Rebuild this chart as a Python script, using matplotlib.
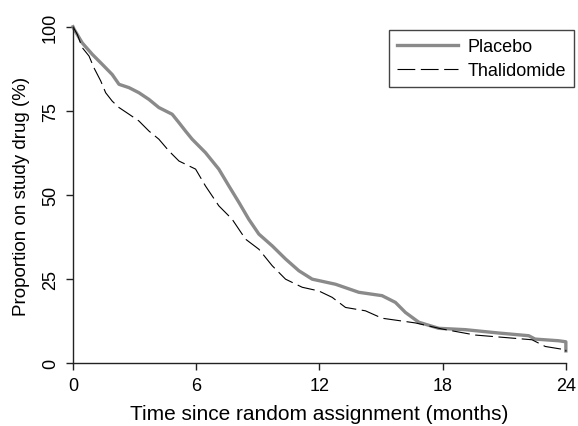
import matplotlib
matplotlib.use("Agg")
import matplotlib.pyplot as plt

# valores (meses, % en farmaco)
t_placebo = [0, 0.05, 0.45, 0.94, 1.43, 1.91, 2.24, 2.73, 3.21, 3.7, 4.18, 4.83,
             5.16, 5.48, 5.8, 6.45, 7.1, 7.59, 8.08, 8.56, 9.05, 9.7, 10.35, 11.0,
             11.65, 12.78, 13.92, 15.05, 15.7, 16.19, 16.84, 17.81, 19.1, 20.73,
             22.19, 22.5, 23.65, 24, 24]
y_placebo = [100, 99.3, 95.2, 91.8, 88.8, 85.8, 82.9, 81.9, 80.4, 78.4, 76.0, 74.0,
             71.5, 69.0, 66.6, 62.6, 57.7, 52.7, 47.8, 42.8, 38.4, 34.9, 31.0, 27.5,
             25.0, 23.5, 21.1, 20.1, 18.1, 15.1, 12.2, 10.4, 10.0, 9.0,
             8.2, 7.2, 6.7, 6.4, 3.7]

t_talid = [0, 0.21, 0.45, 0.78, 1.02, 1.35, 1.59, 1.91, 2.24, 2.73, 3.21, 3.7, 4.18,
           4.67, 5.16, 5.97, 6.45, 7.1, 7.75, 8.4, 9.05, 9.7, 10.35, 11.16, 11.97,
           12.62, 13.27, 14.24, 15.05, 16.67, 17.97, 19.59, 22.35, 23.0, 23.8, 24, 24]
y_talid = [100, 97.7, 93.8, 91.3, 87.8, 83.9, 80.4, 77.9, 76.0, 74.0, 72.0, 69.0, 66.6,
           63.1, 60.1, 57.7, 52.7, 46.8, 42.8, 36.9, 33.9, 29.0, 25.0, 22.6, 21.5,
           19.6, 16.6, 15.6, 13.4, 12.0, 10.2, 8.4, 7.0, 5.0, 4.2, 4.2, 3.5]

xticks = [0, 6, 12, 18, 24]
yticks = [0, 25, 50, 75, 100]

plt.rcParams['font.family'] = ['Liberation Sans', 'DejaVu Sans']

fig = plt.figure(figsize=(5.78, 4.27), dpi=100)
ax = fig.add_axes([0.1263, 0.1468, 0.979 - 0.1263, 0.935 - 0.1468])

ax.plot(t_placebo, y_placebo, color='#8a8a8a', lw=2.4,
        label='Placebo', clip_on=False)
ax.plot(t_talid, y_talid, color='black', lw=0.8,
        dashes=(16, 5), label='Thalidomide', clip_on=False)

ax.set_xlim(0, 24)
ax.set_ylim(0, 100)
ax.set_xticks(xticks)
ax.set_yticks(yticks)
ax.spines['top'].set_visible(False)
ax.spines['right'].set_visible(False)
for s in ['left', 'bottom']:
    ax.spines[s].set_linewidth(1.0)
    ax.spines[s].set_color('#222222')
ax.tick_params(direction='out', length=5, width=1.0, labelsize=13, color='#222222',
               pad=5)
for lab in ax.get_yticklabels():
    lab.set_rotation(90)
    lab.set_va('center')

ax.set_xlabel('Time since random assignment (months)', fontsize=15, labelpad=7)
ax.set_ylabel('Proportion on study drug (%)', fontsize=13.5, labelpad=9)

leg = ax.legend(loc='upper right', bbox_to_anchor=(574 / 578, 1 - 31 / 427),
                bbox_transform=fig.transFigure, borderaxespad=0, fontsize=13,
                fancybox=False, framealpha=1, edgecolor='#444444',
                handlelength=3.4, handletextpad=0.5, borderpad=0.45,
                labelspacing=0.4)
leg.get_frame().set_linewidth(1.0)

fig.savefig('out.png', dpi=100)
